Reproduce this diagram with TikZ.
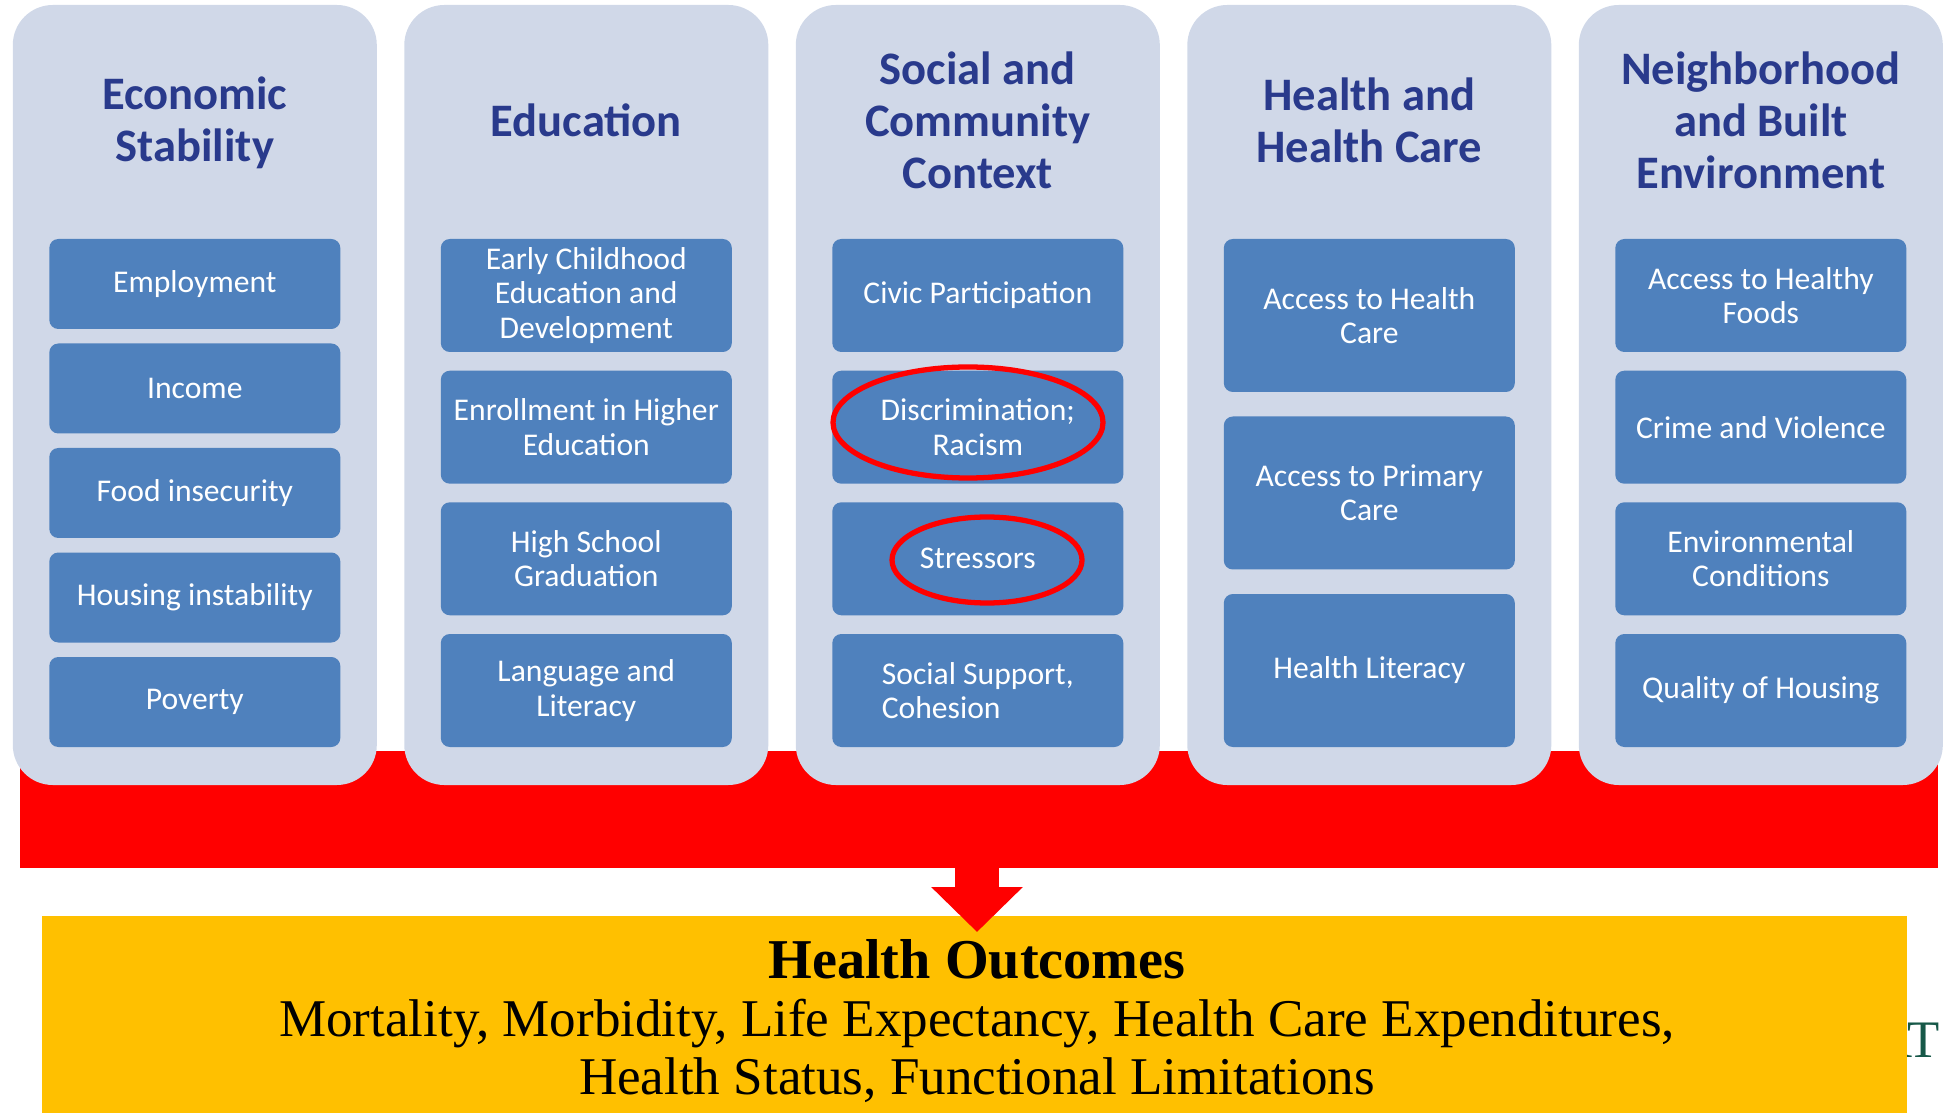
\documentclass[tikz,border=0pt]{standalone}
\usepackage{fontspec}
\setmainfont{Carlito}
\newfontfamily\outfont{Liberation Serif}
\usetikzlibrary{arrows.meta}

\definecolor{colbg}{RGB}{208,216,232}
\definecolor{boxblue}{RGB}{79,129,189}
\definecolor{titleblue}{RGB}{41,58,140}
\definecolor{outyellow}{RGB}{255,192,0}
\definecolor{logogreen}{RGB}{22,88,72}

\tikzset{
    column/.style={fill=colbg, rounded corners=0.4cm, minimum width=3.64cm, minimum height=7.8cm, inner sep=0},
    coltitle/.style={text=titleblue, align=center, font=\bfseries\fontsize{13.25}{14.8}\selectfont},
    factor/.style={fill=boxblue, rounded corners=0.09cm, text=white, align=center, inner sep=0,
        minimum width=2.91cm, minimum height=#1, font=\fontsize{9}{9.8}\selectfont},
    factor/.default=1.13cm,
    flag/.style={draw=red, line width=1.5pt},
    outline/.style={anchor=base, font=\outfont\fontsize{15.1}{17}\selectfont},
}

\begin{document}
\begin{tikzpicture}
    \useasboundingbox (0,0) rectangle (19.44,11.14);

    % logo corner peeking out behind the outcome box
    \node[anchor=base east, inner sep=0, text=logogreen, font=\outfont\fontsize{15}{15}\selectfont] (logo) at (19.40,0.57) {AT};

    % outcome box, red band and arrow
    \node[fill=outyellow, anchor=south west, inner sep=0, minimum width=18.65cm, minimum height=1.97cm] (outcomes) at (0.41,0) {};
    \node[fill=red, anchor=south west, inner sep=0, minimum width=19.18cm, minimum height=1.17cm] (band) at (0.19,2.45) {};
    \coordinate (tip) at (9.77,1.82);
    \draw[red, line width=0.44cm, -{Triangle[length=0.45cm, width=0.89cm]}] (band.center -| tip) -- (tip);

    % Economic Stability
    \node[column] (econ) at (1.948,7.19) {};
    \node[coltitle] (econ-title) at (1.948,9.91) {Economic\\Stability};
    \node[factor=0.9cm] (employment) at (1.948,8.30) {Employment};
    \node[factor=0.9cm] (income) at (1.948,7.255) {Income};
    \node[factor=0.9cm] (food) at (1.948,6.21) {Food insecurity};
    \node[factor=0.9cm] (housing) at (1.948,5.165) {Housing instability};
    \node[factor=0.9cm] (poverty) at (1.948,4.12) {Poverty};

    % Education
    \node[column] (edu) at (5.863,7.19) {};
    \node[coltitle] (edu-title) at (5.863,9.94) {Education};
    \node[factor] (early) at (5.863,8.185) {Early Childhood\\Education and\\Development};
    \node[factor] (enroll) at (5.863,6.868) {Enrollment in Higher\\Education};
    \node[factor] (highschool) at (5.863,5.552) {High School\\Graduation};
    \node[factor] (language) at (5.863,4.235) {Language and\\Literacy};

    % Social and Community Context
    \node[column] (social) at (9.778,7.19) {};
    \node[coltitle] (social-title) at (9.778,9.94) {Social and\\Community\\Context};
    \node[factor] (civic) at (9.778,8.185) {Civic Participation};
    \node[factor] (discrim) at (9.778,6.868) {Discrimination;\\Racism};
    \node[factor] (stress) at (9.778,5.552) {Stressors};
    \node[factor, align=left] (support) at (9.778,4.235) {Social Support,\\Cohesion};
    \draw[flag] ([shift={(-0.098,0.047)}]discrim.center) ellipse [x radius=1.35cm, y radius=0.555cm];
    \draw[flag] ([shift={(0.092,-0.012)}]stress.center) ellipse [x radius=0.95cm, y radius=0.43cm];

    % Health and Health Care
    \node[column] (care) at (13.693,7.19) {};
    \node[coltitle] (care-title) at (13.693,9.94) {Health and\\Health Care};
    \node[factor=1.53cm] (access) at (13.693,7.985) {Access to Health\\Care};
    \node[factor=1.53cm] (primary) at (13.693,6.21) {Access to Primary\\Care};
    \node[factor=1.53cm] (literacy) at (13.693,4.435) {Health Literacy};

    % Neighborhood and Built Environment
    \node[column] (hood) at (17.608,7.19) {};
    \node[coltitle] (hood-title) at (17.608,9.94) {Neighborhood\\and Built\\Environment};
    \node[factor] (foods) at (17.608,8.185) {Access to Healthy\\Foods};
    \node[factor] (crime) at (17.608,6.868) {Crime and Violence};
    \node[factor] (environ) at (17.608,5.552) {Environmental\\Conditions};
    \node[factor] (quality) at (17.608,4.235) {Quality of Housing};

    % outcome text
    \node[outline, font=\outfont\bfseries\fontsize{16}{18}\selectfont] (outcomes-title) at (9.77,1.36) {Health Outcomes};
    \node[outline] (outcomes-a) at (9.77,0.78) {Mortality, Morbidity, Life Expectancy, Health Care Expenditures,};
    \node[outline] (outcomes-b) at (9.77,0.20) {Health Status, Functional Limitations};
\end{tikzpicture}
\end{document}
